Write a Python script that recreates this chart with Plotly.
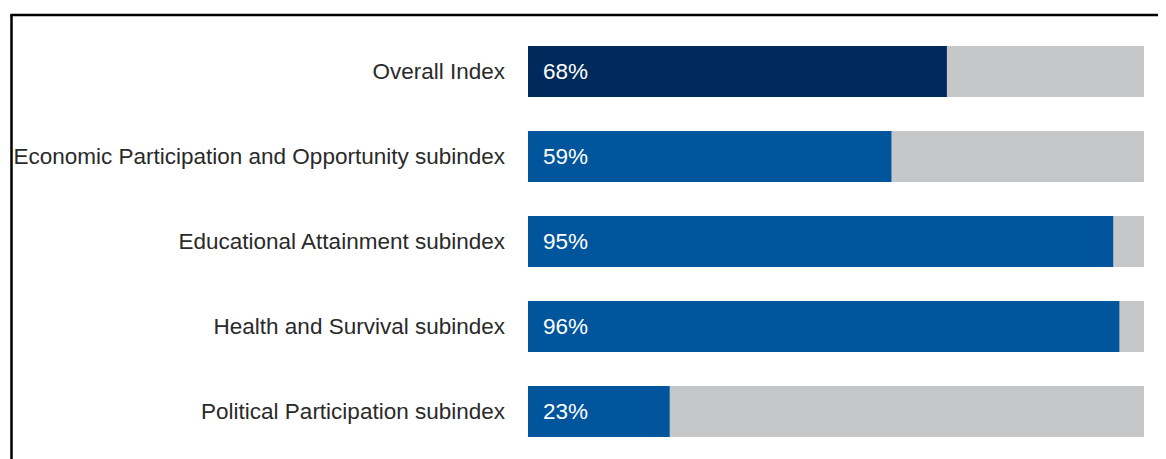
import plotly.graph_objects as go

categories = [
    "Overall Index",
    "Economic Participation and Opportunity subindex",
    "Educational Attainment subindex",
    "Health and Survival subindex",
    "Political Participation subindex",
]
values = [0.68, 0.59, 0.95, 0.96, 0.23]
full_scale = [1.0, 1.0, 1.0, 1.0, 1.0]
bar_colors = ["#002a5c", "#00559d", "#00559d", "#00559d", "#00559d"]
value_labels = ["68%", "59%", "95%", "96%", "23%"]

# page has an 8px body offset; figure coordinates are page coordinates - 8
OFF = 8
W, H = 1166 - OFF, 459 - OFF
ML = 528 - OFF
MT = 29 - OFF
PLOT_BOTTOM = 454 - OFF
MB = H - PLOT_BOTTOM
MR = W - (1144 - OFF)

fig = go.Figure()
fig.add_trace(go.Bar(
    y=categories, x=full_scale, orientation="h",
    marker=dict(color="#c6c7c9", line=dict(width=0)),
    width=0.6, hoverinfo="skip", showlegend=False,
))
fig.add_trace(go.Bar(
    y=categories, x=values, orientation="h",
    marker=dict(color=bar_colors, line=dict(width=0)),
    width=0.6, showlegend=False,
))

FONT = "Liberation Sans, Arial, sans-serif"
annotations = []
for cat, lab in zip(categories, value_labels):
    annotations.append(dict(
        x=0, y=cat, xref="x", yref="y", text=lab, showarrow=False,
        xanchor="left", yanchor="middle", xshift=13,
        font=dict(family=FONT, size=22.5, color="#ffffff"),
    ))

pw = W - ML - MR
ph = H - MT - MB
def px_x(p):
    return (p - OFF - ML) / pw
def px_y(p):
    return (PLOT_BOTTOM - (p - OFF)) / ph

shapes = [
    dict(type="line", xref="paper", yref="paper",
         x0=px_x(11.5), x1=px_x(11.5), y0=px_y(480), y1=px_y(15),
         line=dict(color="#000000", width=2.5)),
    dict(type="line", xref="paper", yref="paper",
         x0=px_x(10.3), x1=px_x(1190), y0=px_y(15), y1=px_y(15),
         line=dict(color="#000000", width=2.5)),
]

fig.update_layout(
    width=W, height=H,
    margin=dict(l=ML, r=MR, t=MT, b=MB, pad=0, autoexpand=False),
    barmode="overlay",
    paper_bgcolor="#ffffff", plot_bgcolor="#ffffff",
    font=dict(family=FONT, size=22.5, color="#2a2a2a"),
    xaxis=dict(range=[0, 1], visible=False, fixedrange=True, automargin=False),
    yaxis=dict(
        autorange=False, range=[4.5, -0.5], showgrid=False, zeroline=False,
        showline=False, ticks="", ticklabelstandoff=22, automargin=False,
        tickfont=dict(family=FONT, size=22.5, color="#2a2a2a"),
        fixedrange=True,
    ),
    annotations=annotations,
    shapes=shapes,
)

fig.write_html("out.html")
